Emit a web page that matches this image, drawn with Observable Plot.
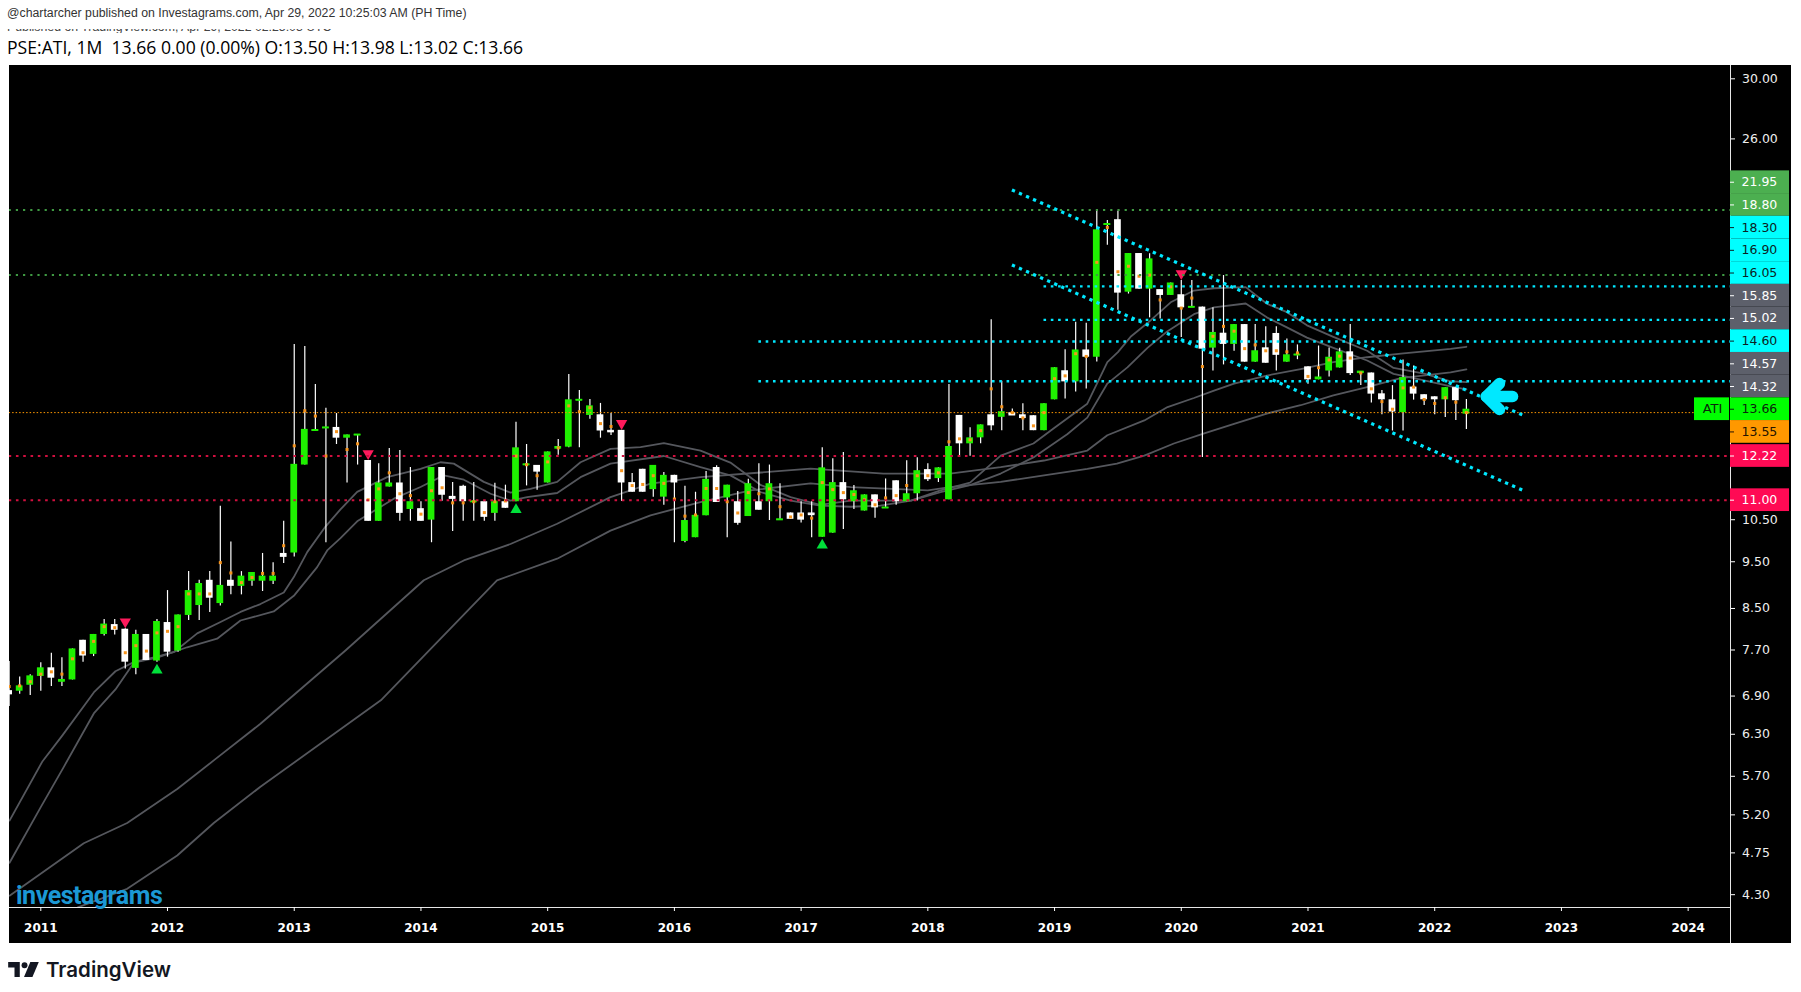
<!DOCTYPE html>
<html><head><meta charset="utf-8">
<script src="https://cdn.jsdelivr.net/npm/d3@7"></script>
<script src="https://cdn.jsdelivr.net/npm/@observablehq/plot@0.6"></script>
<style>
html,body{margin:0;padding:0;background:#fff;width:1801px;height:992px;overflow:hidden;}
body{position:relative;font-family:"Liberation Sans",Arial,sans-serif;}
#l1{position:absolute;left:7px;top:6px;font-size:12.3px;color:#333;white-space:nowrap;}
#l2{position:absolute;left:7px;top:29px;height:4px;width:700px;overflow:hidden;}
#l2 span{position:absolute;top:-9px;left:0;font-size:12.3px;color:#444;white-space:nowrap;}
#l3{position:absolute;left:7px;top:35px;font-family:"Open Sans",sans-serif;font-size:17.6px;color:#000;white-space:nowrap;}
#chart{position:absolute;left:9px;top:65px;width:1782px;height:878px;background:#000;}
#wm{position:absolute;left:16px;top:881px;font-family:Roboto,sans-serif;font-weight:700;font-size:25px;letter-spacing:-0.5px;color:#1b98d5;}
#tv{position:absolute;left:8px;top:957px;display:flex;align-items:center;gap:6px;font-family:Inter,Roboto,sans-serif;font-weight:600;font-size:20.5px;color:#131722;}
</style></head>
<body>
<div id="l1">@chartarcher published on Investagrams.com, Apr 29, 2022 10:25:03 AM (PH Time)</div>
<div id="l2"><span>Published on TradingView.com, Apr 29, 2022 02:25:03 UTC</span></div>
<div id="l3">PSE:ATI, 1M&nbsp; 13.66 0.00 (0.00%) O:13.50 H:13.98 L:13.02 C:13.66</div>
<div id="chart"></div>
<div id="wm">investagrams</div>
<div id="tv"><svg width="32" height="19" viewBox="0 0 30 18"><path d="M0 2h11v14H6V7H0z" fill="#131722"/><circle cx="15.5" cy="5" r="2.8" fill="#131722"/><path d="M21 2h8l-6 14h-8z" fill="#131722"/></svg><span>TradingView</span></div>
<script>
// ---------- DATA ----------
const startMonth = "2010-10"; // first monthly bar
const open = [
 6.99,6.98,7.08,
 7.23,7.38,7.13,7.17,7.88,7.62,7.99,8.18,8.09,7.37,7.99,7.50,
 8.22,7.68,8.36,8.56,9.09,8.60,9.09,8.96,9.07,9.07,9.07,9.69,
 9.70,11.96,12.97,13.05,13.08,12.75,12.84,12.09,10.46,11.35,11.46,10.76,
 10.78,10.49,11.89,11.10,11.37,10.95,10.96,10.66,10.96,10.96,11.96,11.95,
 11.46,12.42,12.48,13.95,13.46,13.48,12.99,12.99,11.47,11.84,11.28,11.08,
 11.67,9.97,10.06,10.60,11.89,11.06,10.96,10.58,10.96,10.96,10.49,10.67,
 10.67,10.67,10.07,10.17,11.47,10.96,10.72,11.14,10.79,11.52,10.96,11.17,
 11.83,11.58,11.01,13.46,12.58,12.76,13.48,13.40,13.55,13.48,13.45,12.98,
 13.97,14.97,14.58,15.73,15.46,21.17,21.45,18.05,19.79,18.18,18.16,17.91,
 17.94,17.40,17.42,15.80,16.37,15.94,16.71,15.28,15.81,16.36,15.28,15.54,
 15.11,14.65,14.96,15.07,15.66,14.87,14.89,14.17,13.97,13.55,14.40,14.14,
 14.07,13.97,14.38,13.50];
const high = [
 7.49,7.22,7.26,
 7.47,7.64,7.56,7.72,7.88,7.99,8.28,8.28,8.10,8.07,7.99,8.28,
 8.87,8.37,9.28,9.09,9.28,10.84,9.96,9.28,9.26,9.69,9.48,10.46,
 15.94,15.86,14.49,13.69,13.52,12.85,12.86,12.09,12.00,12.44,12.38,11.89,
 10.96,11.89,11.89,11.47,11.40,11.47,10.96,11.45,11.40,13.24,12.56,11.95,
 12.34,12.71,14.84,14.28,13.98,13.85,13.52,12.99,11.72,11.84,11.95,11.75,
 11.67,11.37,11.21,11.78,11.94,11.40,11.23,11.56,12.00,11.96,11.44,10.67,
 10.96,10.96,12.46,12.14,12.32,11.39,11.14,11.14,11.57,11.52,12.08,12.17,
 12.00,11.88,14.49,13.46,13.07,13.16,16.90,14.60,13.67,13.84,13.45,13.84,
 15.08,15.74,16.80,16.76,21.95,21.41,21.88,19.79,19.79,19.78,18.16,18.45,
 18.56,18.56,17.42,17.39,18.78,16.71,16.71,16.71,16.62,16.62,16.15,15.92,
 15.11,15.88,15.80,15.79,16.71,14.94,14.89,14.28,14.45,15.36,15.14,14.14,
 14.07,14.38,14.38,13.98];
const low = [
 6.73,6.93,6.91,
 6.98,7.06,7.06,7.17,7.48,7.58,7.96,7.98,7.36,7.26,7.51,7.48,
 7.57,7.66,8.26,8.26,8.42,8.55,8.78,8.78,8.96,8.85,9.00,9.46,
 9.61,11.96,12.97,9.94,12.56,11.46,11.96,10.46,10.46,11.35,10.46,10.46,
 10.46,9.94,10.97,10.21,10.46,10.46,10.46,10.46,10.79,10.96,11.38,11.26,
 11.46,12.24,12.46,12.46,13.34,12.75,12.83,10.97,11.21,11.21,11.08,10.87,
 9.94,9.94,10.06,10.60,10.94,10.06,10.36,10.58,10.74,10.48,10.49,10.51,
 10.42,10.06,10.07,10.17,10.26,10.76,10.72,10.54,10.79,10.87,10.96,10.98,
 11.50,11.47,11.01,12.18,12.21,12.58,12.98,12.98,13.49,12.98,12.98,12.98,
 13.97,14.00,14.23,14.33,15.29,20.18,17.29,17.97,18.18,16.98,16.93,17.91,
 16.20,17.40,12.18,14.96,15.18,15.68,15.28,15.28,15.24,14.96,15.28,15.37,
 14.50,14.65,14.75,15.07,14.80,14.45,13.86,13.48,12.97,12.97,13.96,13.78,
 13.48,13.39,13.30,13.02];
const close = [
 6.92,7.07,7.24,
 7.38,7.20,7.17,7.72,7.59,7.99,8.19,8.07,7.48,7.99,7.51,8.24,
 7.66,8.37,8.87,9.02,8.71,8.98,8.96,9.18,9.26,9.18,9.18,9.60,
 11.98,13.02,13.00,13.08,12.75,12.85,12.86,10.46,11.46,11.46,10.66,10.96,
 10.46,11.89,11.13,11.06,10.96,10.97,10.56,10.96,10.79,12.46,11.98,11.76,
 12.34,12.50,13.97,13.97,13.77,12.97,12.96,11.46,11.21,11.21,11.95,11.67,
 11.46,10.48,10.61,11.56,10.94,11.40,10.41,11.44,10.74,11.44,10.51,10.51,
 10.49,10.64,11.88,11.47,11.01,11.25,11.14,10.80,10.81,10.96,11.17,11.80,
 11.55,11.88,12.50,12.58,12.76,13.16,13.13,13.58,13.49,13.36,12.98,13.84,
 15.08,14.58,15.73,15.46,20.94,21.23,18.01,19.79,18.18,19.54,17.91,18.45,
 17.39,17.43,15.76,16.40,15.94,16.71,15.28,15.70,15.24,15.53,15.55,15.56,
 14.65,14.75,15.46,15.66,14.87,14.94,14.16,13.97,13.57,14.73,14.16,13.97,
 13.97,14.38,13.94,13.66];
const marker = [
 7.06,7.07,7.14,
 7.27,7.31,7.27,7.54,7.65,7.86,8.14,8.12,7.65,7.78,7.68,8.02,
 8.05,8.14,8.80,8.80,8.80,9.48,9.25,9.04,9.15,9.24,9.24,9.87,
 12.52,13.61,13.44,12.22,12.95,12.41,12.58,11.01,11.30,11.74,11.17,11.12,
 10.64,11.25,11.33,10.93,10.93,10.96,10.68,10.96,10.98,12.22,11.97,11.66,
 12.05,12.46,13.77,13.58,13.71,13.20,13.11,11.80,11.39,11.42,11.66,11.45,
 11.03,10.59,10.62,11.31,11.31,10.96,10.67,11.20,11.17,11.30,10.83,10.57,
 10.62,10.54,11.47,11.28,11.20,11.15,11.01,10.88,11.06,11.12,11.39,11.66,
 11.66,11.74,12.64,12.73,12.70,12.98,14.34,13.74,13.55,13.38,13.13,13.55,
 14.69,14.79,15.59,15.49,19.38,21.06,18.95,19.20,18.75,18.80,17.72,18.28,
 17.38,17.80,15.12,16.25,16.64,16.45,15.78,15.92,15.70,15.70,15.66,15.62,
 14.77,15.08,15.36,15.50,15.43,14.89,14.34,13.91,13.66,14.37,14.40,13.98,
 13.85,14.04,13.89,13.55];
const sellSignals = ["2011-09","2013-08","2015-08","2020-01"];
const buySignals  = ["2011-12","2014-10","2017-03"];

// moving averages: [month index from Jan 2011, value]
const maFast = [[-2.96,5.13],[0.13,5.90],[2.03,6.28],[5.02,6.96],[7.07,7.32],[8.81,7.48],[11.02,7.58],[12.59,7.66],[14.81,8.01],[17.02,8.23],[18.91,8.43],[20.8,8.59],[23.01,8.83],[23.96,9.16],[25.23,9.72],[26.96,10.33],[28.38,10.76],[29.96,11.22],[32.8,11.62],[35.96,11.85],[37.85,12.04],[39.11,12.0],[41.95,11.49],[44.48,11.2],[46.37,11.3],[48.9,11.49],[51.11,12.04],[53.95,12.43],[56.79,12.48],[59.0,12.6],[62.47,12.38],[65.3,12.03],[68.2,11.4],[71.0,11.08],[73.8,10.88],[76.7,10.99],[79.5,10.99],[82.4,10.99],[85.2,11.26],[88.0,11.47],[90.9,12.23],[94.0,12.59],[95.9,13.05],[99.1,13.84],[101.0,15.28],[102.0,15.65],[103.2,16.23],[104.8,16.77],[107.0,17.62],[109.2,18.12],[111.1,18.22],[114.1,18.27],[116.1,17.56],[118.0,17.21],[119.9,16.68],[122.4,16.23],[125.6,15.70],[128.1,15.07],[131.0,14.87],[133.5,14.6],[135,14.57]];
const maMid = [[-2.96,4.64],[-0.03,5.29],[2.18,5.83],[5.02,6.62],[7.07,7.01],[8.81,7.47],[11.02,7.56],[13.86,7.75],[16.7,7.91],[18.91,8.26],[22.06,8.44],[23.96,8.76],[26.17,9.38],[27.12,9.76],[28.38,10.05],[29.96,10.46],[33.43,11.04],[35.96,11.35],[38.16,11.67],[40.06,11.55],[42.59,11.17],[44.48,10.99],[46.06,11.08],[48.9,11.19],[51.11,11.62],[53.95,12.0],[59.0,12.22],[62.47,11.9],[65.3,11.67],[68.2,11.21],[71.0,10.99],[73.8,10.86],[76.7,10.83],[79.5,10.86],[82.4,10.99],[85.2,11.21],[88.0,11.4],[90.9,11.72],[94.0,12.18],[97.2,12.87],[99.1,13.39],[101.0,14.52],[102.9,15.09],[104.8,15.81],[106.7,16.45],[109.2,17.13],[111.1,17.41],[114.1,17.57],[116.1,17.0],[118.0,16.6],[119.9,16.2],[122.4,15.81],[125.6,15.34],[128.1,14.86],[131.0,14.63],[133.5,14.42],[135,14.32]];
const maSlow = [[-2.96,4.29],[4.07,4.86],[8.18,5.10],[12.92,5.53],[16.38,5.92],[20.8,6.46],[28.85,7.69],[36.27,9.09],[40.06,9.53],[44.48,9.91],[48.9,10.40],[53.95,11.08],[57.74,11.44],[62.47,11.62],[68.2,11.75],[72.9,11.86],[79.8,11.72],[86.1,11.72],[90.9,11.90],[95.0,12.09],[99.1,12.38],[101.0,12.84],[104.5,13.30],[106.7,13.73],[109.2,14.03],[111.1,14.28],[113.0,14.52],[116.1,14.80],[119.3,15.03],[122.4,15.28],[125.6,15.46],[128.8,15.59],[133.5,15.77],[135,15.85]];
const maSlowest = [[-2.96,3.95],[3.45,4.17],[8.18,4.36],[12.92,4.72],[16.38,5.10],[20.8,5.56],[32.2,6.83],[43.2,9.09],[48.9,9.57],[53.95,10.23],[57.74,10.61],[62.47,10.95],[67.2,11.26],[72.9,11.45],[76.7,11.35],[84.0,11.26],[86.1,11.35],[90.9,11.49],[95.0,11.67],[99.1,11.85],[101.9,12.00],[104.5,12.23],[107.3,12.59],[110.1,12.89],[113.0,13.19],[116.1,13.52],[119.3,13.79],[122.4,14.12],[125.6,14.40],[128.8,14.71],[133.5,14.91],[135,15.02]];

// descending channel (month index, price)
const channelUpper = [[92.1,22.99],[140.6,13.43]];
const channelLower = [[92.1,19.23],[140.6,11.23]];

// horizontal levels
const levelValues = [21.95,18.80,18.30,16.90,16.05,14.60,13.55,12.22,11.00];
const levelKinds  = ["green","green","cyan","cyan","cyan","cyan","orange","red","red"];
const levelStarts = ["2010-10","2010-10","2018-12","2018-12","2016-09","2016-09","2010-10","2010-10","2010-10"];

// price-scale labels
const labelValues = [21.95,18.80,18.30,16.90,16.05,15.85,15.02,14.60,14.57,14.32,13.66,13.55,12.22,11.00];
const labelKinds  = ["green","green","cyan","cyan","cyan","gray","gray","cyan","gray","gray","last","orange","red","red"];
const symbol = "ATI";
const yTicks = [30,26,10.5,9.5,8.5,7.7,6.9,6.3,5.7,5.2,4.75,4.3];
const yearTicks = [2011,2012,2013,2014,2015,2016,2017,2018,2019,2020,2021,2022,2023,2024];
// hand-drawn arrow annotation (month index, price): upper arm end, tip, lower arm end / tip, tail
const arrowHead = [[138.13,14.52],[136.89,14.08],[138.13,13.65]];
const arrowShaft = [[136.89,14.08],[139.37,14.08]];

// ---------- STYLES ----------
const boxFill = {green:"#4caf50",cyan:"#00ffff",gray:"#5d606b",last:"#00ff00",orange:"#ff9800",red:"#ff0a54"};
const boxText = {green:"#ffffff",cyan:"#0b1f24",gray:"#ffffff",last:"#0b240b",orange:"#241400",red:"#ffffff"};
const lineColor = {green:"#3f9a43",cyan:"#00e8ff",orange:"#ff9800",red:"#d0103f"};
const UP = "#1ff000", DOWN = "#ffffff";

// ---------- BUILD ----------
const W = 1782, H = 878, mR = 61, mB = 36;
const xDomain = [-2.964, 160.01];
const yDomain = [4.1708, 30.965];
const mi = s => { const [y, m] = s.split("-").map(Number); return (y - 2011) * 12 + (m - 1); };
const m0 = mi(startMonth);
const bars = open.map((o, i) => ({m: m0 + i, o, h: high[i], l: low[i], c: close[i], s: marker[i]}));
const byM = new Map(bars.map(d => [d.m, d]));
const sells = sellSignals.map(s => byM.get(mi(s)));
const buys = buySignals.map(s => byM.get(mi(s)));
const ups = bars.filter(d => d.c >= d.o), downs = bars.filter(d => d.c < d.o);
const dojis = bars.filter(d => Math.abs(Math.log(d.c / d.o)) < 0.006);
const hw = 0.32;

const xS = d3.scaleLinear(xDomain, [0, W - mR]);
const yS = d3.scaleLog(yDomain, [H - mB, 0]);
const lastClose = close[close.length - 1];
const lh = 22.7;
const py = labelValues.map(v => yS(v));
const ai = labelValues.indexOf(lastClose);
const adj = py.slice();
for (let i = ai - 1; i >= 0; i--) adj[i] = Math.min(py[i], adj[i + 1] - lh);
for (let i = ai + 1; i < py.length; i++) adj[i] = Math.max(py[i], adj[i - 1] + lh);
const labels = labelValues.map((v, i) => ({
  v, kind: labelKinds[i],
  y: yS.invert(adj[i]), y1: yS.invert(adj[i] - lh / 2), y2: yS.invert(adj[i] + lh / 2)
}));
const bx1 = xS.invert(W - mR), bx2 = xS.invert(W - 2);
const tx = xS.invert(W - mR + 11);
const lastLabel = labels[ai];
const levels = levelValues.map((v, i) => ({v, kind: levelKinds[i], x1: mi(levelStarts[i]), x2: xDomain[1]}));
const ln = (arr) => arr.map(([m, v]) => ({m, v}));
const maStroke = "#55575d";
const arrowStyle = {x: "m", y: "v", stroke: "#00e8ff", strokeWidth: 11.5, strokeLinecap: "round", strokeLinejoin: "round"};

const chart = Plot.plot({
  width: W, height: H,
  marginLeft: 0, marginRight: mR, marginTop: 0, marginBottom: mB,
  style: {background: "#000", overflow: "visible", fontFamily: "DejaVu Sans, sans-serif"},
  x: {domain: xDomain, range: [0, W - mR]},
  y: {type: "log", domain: yDomain, range: [H - mB, 0]},
  marks: [
    // moving averages
    ...[maSlowest, maSlow, maMid, maFast].map(a => Plot.line(ln(a), {x: "m", y: "v", stroke: maStroke, strokeWidth: 1.8, clip: true})),
    // wicks and bodies
    Plot.ruleX(bars, {x: "m", y1: "l", y2: "h", stroke: "#fff", strokeWidth: 1.2, clip: true}),
    Plot.rect(ups, {x1: d => d.m - hw, x2: d => d.m + hw, y1: "o", y2: "c", fill: UP, clip: true}),
    Plot.rect(downs, {x1: d => d.m - hw, x2: d => d.m + hw, y1: "o", y2: "c", fill: DOWN, clip: true}),
    Plot.ruleY(dojis, {y: "c", x1: d => d.m - hw, x2: d => d.m + hw, stroke: d => d.c >= d.o ? UP : DOWN, strokeWidth: 2, clip: true}),
    Plot.dot(bars, {x: "m", y: "s", symbol: "square", r: 1.7, fill: "#f7941d", clip: true}),
    // signals
    Plot.dot(sells, {x: "m", y: "h", symbol: "triangle", rotate: 180, r: 4.2, fill: "#ff1a5c", dy: -7}),
    Plot.dot(buys, {x: "m", y: "l", symbol: "triangle", r: 4.2, fill: "#00e03a", dy: 8}),
    // horizontal levels
    Plot.ruleY(levels.filter(d => d.kind === "green"), {y: "v", x1: "x1", x2: "x2", stroke: lineColor.green, strokeWidth: 2, strokeDasharray: "2.2,5", clip: true}),
    Plot.ruleY(levels.filter(d => d.kind === "cyan"), {y: "v", x1: "x1", x2: "x2", stroke: lineColor.cyan, strokeWidth: 2.4, strokeDasharray: "2.6,4.7", clip: true}),
    Plot.ruleY(levels.filter(d => d.kind === "red"), {y: "v", x1: "x1", x2: "x2", stroke: lineColor.red, strokeWidth: 2, strokeDasharray: "2.6,4.7", clip: true}),
    Plot.ruleY(levels.filter(d => d.kind === "orange"), {y: "v", x1: "x1", x2: "x2", stroke: lineColor.orange, strokeWidth: 1, strokeDasharray: "1.5,2", clip: true}),
    // channel
    Plot.line(ln(channelUpper), {x: "m", y: "v", stroke: lineColor.cyan, strokeWidth: 3.2, strokeDasharray: "0.1,7.6", strokeLinecap: "square", clip: true}),
    Plot.line(ln(channelLower), {x: "m", y: "v", stroke: lineColor.cyan, strokeWidth: 3.2, strokeDasharray: "0.1,7.6", strokeLinecap: "square", clip: true}),
    // arrow annotation
    Plot.line(ln(arrowHead), arrowStyle),
    Plot.line(ln(arrowShaft), arrowStyle),
    // axes
    Plot.frame({anchor: "bottom", stroke: "#e6e6e6"}),
    Plot.frame({anchor: "right", stroke: "#e6e6e6"}),
    Plot.axisX({ticks: yearTicks.map(y => (y - 2011) * 12), tickFormat: m => String(2011 + m / 12), tickSize: 4, tickPadding: 12, stroke: "#fff", fill: "#fff", fontSize: 12, fontWeight: "bold"}),
    Plot.axisY({anchor: "right", ticks: yTicks, tickFormat: d => d.toFixed(2), tickSize: 4, tickPadding: 7.5, stroke: "#fff", fill: "#eee", fontSize: 12.5}),
    // price labels
    Plot.rect(labels, {x1: bx1, x2: bx2, y1: "y1", y2: "y2", fill: d => boxFill[d.kind]}),
    Plot.ruleY(labels, {y: "y", x1: xS.invert(W - mR), x2: xS.invert(W - mR + 4), stroke: d => boxText[d.kind], strokeWidth: 1}),
    Plot.text(labels, {x: tx, y: "y", text: d => d.v.toFixed(2), fill: d => boxText[d.kind], textAnchor: "start", fontSize: 12.5}),
    Plot.rect([lastLabel], {x1: xS.invert(W - mR - 36), x2: xS.invert(W - mR - 1), y1: "y1", y2: "y2", fill: boxFill.last}),
    Plot.text([lastLabel], {x: xS.invert(W - mR - 18), y: "y", text: () => symbol, fill: boxText.last, fontSize: 13})
  ]
});
const svg = d3.select(chart);
svg.append("line").attr("x1", W - mR + 0.5).attr("x2", W - mR + 0.5).attr("y1", H - mB).attr("y2", H).attr("stroke", "#e6e6e6");
document.getElementById("chart").appendChild(chart);
</script>
</body></html>
